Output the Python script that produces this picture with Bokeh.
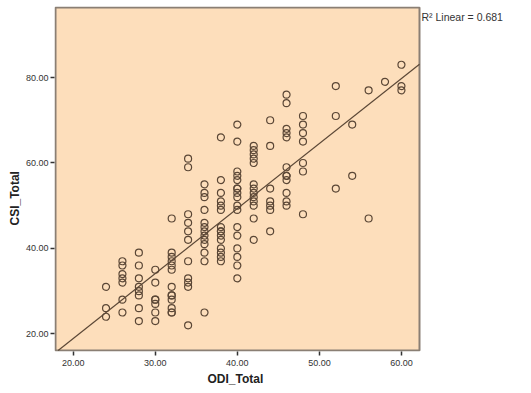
import numpy as np
from bokeh.plotting import figure
from bokeh.models import Range1d, FixedTicker, PrintfTickFormatter, Title
from bokeh.core.properties import value
from bokeh.embed import file_html
from bokeh.resources import INLINE

# ODI_Total scores, grouped by column, with the matching CSI_Total scores
odi_levels = [24, 26, 28, 30, 32, 34, 36, 38, 40, 42, 44, 46, 48, 52, 54, 56, 58, 60]
csi_by_level = [
    [31, 26, 24],
    [37, 36, 34, 33, 32, 28, 25],
    [39, 36, 33, 31, 30, 29, 26, 23],
    [35, 32, 28, 28, 27, 25, 23],
    [47, 39, 38, 37, 36, 35, 31, 29, 29, 28, 26, 25, 25],
    [61, 59, 48, 46, 44, 42, 37, 33, 32, 31, 22],
    [55, 53, 52, 49, 46, 45, 44, 43, 42, 41, 39, 37, 25],
    [66, 56, 53, 51, 50, 49, 45, 44, 44, 43, 42, 40, 39, 38, 37],
    [69, 65, 58, 57, 56, 54, 54, 53, 52, 50, 49, 45, 43, 40, 38, 36, 33],
    [64, 63, 62, 61, 60, 55, 54, 53, 52, 51, 50, 47, 42],
    [70, 64, 54, 51, 50, 49, 44],
    [76, 74, 68, 67, 66, 59, 57, 57, 56, 53, 51, 50],
    [71, 69, 67, 65, 60, 58, 48],
    [78, 71, 54],
    [69, 57],
    [77, 47],
    [79],
    [83, 78, 77],
]

x_ticks = [20, 30, 40, 50, 60]
y_ticks = [20, 40, 60, 80]
x_title = "ODI_Total"
y_title = "CSI_Total"
r2_text = "R\u00b2 Linear = 0.681"

odi = np.array([x for x, ys in zip(odi_levels, csi_by_level) for _ in ys], dtype=float)
csi = np.array([y for ys in csi_by_level for y in ys], dtype=float)

# limits of the shaded plot area
X0, X1 = 17.84, 62.2
Y0, Y1 = 16.1, 96.4

# the frame is wider than the shaded area so the fit summary can sit to its right
PX_X = 364 / (X1 - X0)
PX_Y = 343 / (Y1 - Y0)
xr0 = X0 - 1 / PX_X
xr1 = xr0 + 475 / PX_X
yr0 = Y0 - 1 / PX_Y
yr1 = Y1 + 1 / PX_Y

FRAME = "#8a7f74"
INK = "#5b4736"
FONT = "Liberation Sans"

p = figure(width=531, height=393, output_backend="svg", toolbar_location=None,
           x_range=Range1d(xr0, xr1), y_range=Range1d(yr0, yr1),
           min_border_left=54, min_border_right=2, min_border_top=6,
           min_border_bottom=42)
p.background_fill_color = "white"
p.border_fill_color = "white"
p.outline_line_color = None
p.grid.visible = False

for ax, ticks in ((p.xaxis, x_ticks), (p.yaxis, y_ticks)):
    ax.ticker = FixedTicker(ticks=ticks)
    ax.formatter = PrintfTickFormatter(format="%.2f")
    ax.minor_tick_line_color = None
    ax.major_tick_in = 0
    ax.major_tick_out = 4
    ax.major_tick_line_color = "#333333"
    ax.major_tick_line_width = 1.5
    ax.axis_line_color = None
    ax.major_label_text_font = FONT
    ax.major_label_text_font_size = "9px"
    ax.major_label_text_color = "#333333"

p.xaxis.major_label_standoff = 4
p.yaxis.major_label_standoff = 2

# axis titles, offset from the start of the frame edge
title_style = dict(text_font=FONT, text_font_size="12px", text_font_style="bold",
                   text_color="#222222", align="left")
p.add_layout(Title(text=x_title, offset=153, standoff=2, **title_style), "below")
p.add_layout(Title(text=y_title, offset=126, standoff=2, **title_style), "left")

# shaded plot area with its border
p.quad(left=[X0], right=[X1], bottom=[Y0], top=[Y1], fill_color="#fddebb",
       line_color=FRAME, line_width=2)

# least-squares fit line, kept inside the shaded area
slope, intercept = np.polyfit(odi, csi, 1)
fx0 = max(X0, (Y0 - intercept) / slope)
fx1 = min(X1, (Y1 - intercept) / slope)
fx = np.array([fx0, fx1])
p.line(fx, slope * fx + intercept, line_color=INK, line_width=1.2)

p.scatter(odi, csi, marker="circle", size=7, fill_color=None,
          line_color=INK, line_width=1.2)

p.text(x=[X1 + 2 / PX_X], y=[Y1 - 9 / PX_Y], text=[r2_text],
       text_baseline="middle", text_align="left", text_font=value(FONT),
       text_font_size="10.5px", text_color="#333333")

open("out.html", "w").write(file_html(p, INLINE))
